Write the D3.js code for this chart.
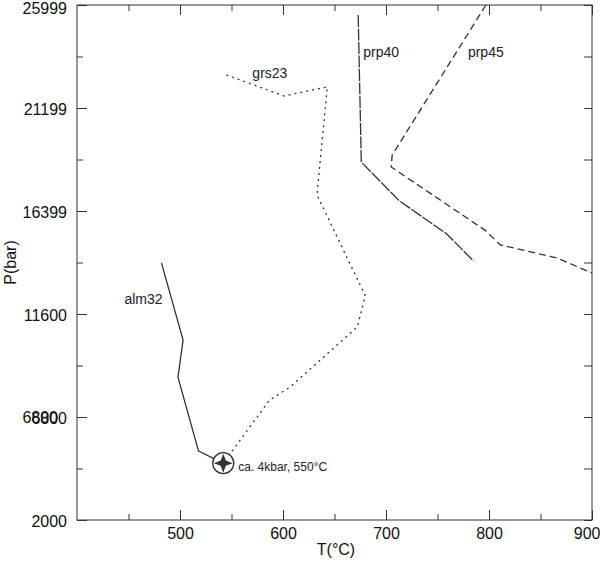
<!DOCTYPE html>
<html>
<head>
<meta charset="utf-8">
<script src="https://cdn.jsdelivr.net/npm/d3@7"></script>
<style>
  html, body { margin: 0; padding: 0; background: #fff; }
  svg { display: block; font-family: "Liberation Sans", Arial, sans-serif; }
</style>
</head>
<body>
<svg id="chart" width="600" height="563"></svg>
<script>
// ---- data ----
const xDomain = [400, 900];
const yDomain = [2000, 25999];
const xMajorTicks = [500, 600, 700, 800, 900];
const xMinorTicks = [450, 550, 650, 750, 850];
const yMajorTicks = [2000, 6800, 11600, 16399, 21199, 25999];
const yMinorTicks = [4400, 9200, 14000, 18799, 23599];
const yTickLabels = ["2000", "6800", "11600", "16399", "21199", "25999"];

const alm32T = [482, 503, 498, 518, 542];
const alm32P = [13980, 10390, 8660, 5210, 4650];

const grs23T = [545, 601, 643, 633, 680, 672, 607, 587, 542];
const grs23P = [22740, 21760, 22180, 17150, 12440, 10990, 8200, 7590, 4650];

const prp40T = [673, 676, 713, 759, 785];
const prp40P = [25530, 18680, 16870, 15330, 14070];

const prp45T = [797, 706, 705, 796, 811, 866, 900];
const prp45P = [25999, 19010, 18450, 15510, 14820, 14210, 13510];

const pointT = 542, pointP = 4650;
const pointLabel = "ca. 4kbar, 550°C";

(function () {
// ---- layout ----
const svg = d3.select("#chart");
const mLeft = 77, mRight = 592, mTop = 5, mBottom = 520;
const x = d3.scaleLinear().domain(xDomain).range([mLeft, mRight]);
const y = d3.scaleLinear().domain(yDomain).range([mBottom, mTop]);
const ink = "#333";
const tickFont = "16px";

// frame
svg.append("rect").attr("x", mLeft).attr("y", mTop)
  .attr("width", mRight - mLeft).attr("height", mBottom - mTop)
  .attr("fill", "none").attr("stroke", ink).attr("stroke-width", 1);

// axes (ticks inward)
function styleAxis(g) {
  g.select(".domain").remove();
  g.selectAll("line").attr("stroke", ink);
  g.selectAll("text").attr("fill", "#111").style("font-size", tickFont)
    .style("font-family", '"Liberation Sans", Arial, sans-serif');
}
const gx = svg.append("g").attr("transform", `translate(0,${mBottom})`)
  .call(d3.axisBottom(x).tickValues(xMajorTicks).tickSize(-10).tickPadding(8).tickFormat(d3.format("d")))
  .call(styleAxis);
// keep the last label inside the picture
gx.selectAll(".tick").filter(d => d === 900).select("text")
  .attr("text-anchor", "end").attr("x", 8);
svg.append("g").attr("transform", `translate(0,${mBottom})`)
  .call(d3.axisBottom(x).tickValues(xMinorTicks).tickSize(-6).tickFormat(""))
  .call(styleAxis);
svg.append("g").attr("transform", `translate(0,${mTop})`)
  .call(d3.axisTop(x).tickValues(xMajorTicks).tickSize(-10).tickFormat(""))
  .call(styleAxis);
svg.append("g").attr("transform", `translate(0,${mTop})`)
  .call(d3.axisTop(x).tickValues(xMinorTicks).tickSize(-6).tickFormat(""))
  .call(styleAxis);
const gy = svg.append("g").attr("transform", `translate(${mLeft},0)`)
  .call(d3.axisLeft(y).tickValues(yMajorTicks).tickSize(-10).tickPadding(10)
    .tickFormat((d, i) => yTickLabels[i]))
  .call(styleAxis);
gy.selectAll("text").attr("dy", d => d === 25999 ? "0.55em" : "0.4em");
svg.append("g").attr("transform", `translate(${mLeft},0)`)
  .call(d3.axisLeft(y).tickValues(yMinorTicks).tickSize(-6).tickFormat(""))
  .call(styleAxis);
svg.append("g").attr("transform", `translate(${mRight},0)`)
  .call(d3.axisRight(y).tickValues(yMajorTicks).tickSize(-8).tickFormat(""))
  .call(styleAxis);
svg.append("g").attr("transform", `translate(${mRight},0)`)
  .call(d3.axisRight(y).tickValues(yMinorTicks).tickSize(-8).tickFormat(""))
  .call(styleAxis);

// overlapping duplicate label at 6800 (as in the source figure)
svg.append("text").attr("x", mLeft - 10 - 9).attr("y", y(6800)).attr("dy", "0.4em")
  .attr("text-anchor", "end").attr("fill", "#111").style("font-size", tickFont)
  .style("font-family", '"Liberation Sans", Arial, sans-serif')
  .text("6800");

// axis titles
svg.append("text").attr("x", 336).attr("y", 555).attr("text-anchor", "middle")
  .attr("fill", "#111").style("font-size", tickFont).text("T(°C)");
svg.append("text").attr("transform", `translate(16,${(mTop + mBottom) / 2}) rotate(-90)`)
  .attr("text-anchor", "middle").attr("fill", "#111").style("font-size", tickFont).text("P(bar)");

// series
const line = d3.line().x(d => x(d[0])).y(d => y(d[1]));
const series = [
  { name: "alm32", T: alm32T, P: alm32P, dash: null },
  { name: "grs23", T: grs23T, P: grs23P, dash: "2,4" },
  { name: "prp40", T: prp40T, P: prp40P, dash: "12,1.5" },
  { name: "prp45", T: prp45T, P: prp45P, dash: "7,4" }
];
series.forEach(s => {
  svg.append("path")
    .attr("d", line(s.T.map((t, i) => [t, s.P[i]])))
    .attr("fill", "none").attr("stroke", ink).attr("stroke-width", 1.3)
    .attr("stroke-dasharray", s.dash);
});

// series labels
const labelStyle = sel => sel.attr("fill", "#222").style("font-size", "14px");
svg.append("text").attr("x", x(alm32T[0]) - 37).attr("y", y(alm32P[0]) + 41).text("alm32").call(labelStyle);
svg.append("text").attr("x", x(grs23T[0]) + 26).attr("y", y(grs23P[0]) + 3).text("grs23").call(labelStyle);
svg.append("text").attr("x", x(prp40T[0]) + 5).attr("y", 57).text("prp40").call(labelStyle);
svg.append("text").attr("x", x(prp45T[0]) - 18).attr("y", 57).text("prp45").call(labelStyle);

// marker: circle with four-pointed star
const cx = x(pointT), cy = y(pointP);
svg.append("circle").attr("cx", cx).attr("cy", cy).attr("r", 10.5)
  .attr("fill", "#fff").attr("stroke", ink).attr("stroke-width", 1.3);
const L = 9.5, w = 2.6;
svg.append("path")
  .attr("d", `M${cx},${cy - L} L${cx + w},${cy - w} L${cx + L},${cy} L${cx + w},${cy + w} L${cx},${cy + L} L${cx - w},${cy + w} L${cx - L},${cy} L${cx - w},${cy - w} Z`)
  .attr("fill", "#333");
svg.append("text").attr("x", cx + 15).attr("y", cy + 8).attr("fill", "#222")
  .style("font-size", "12px").text(pointLabel);
})();
</script>
</body>
</html>
